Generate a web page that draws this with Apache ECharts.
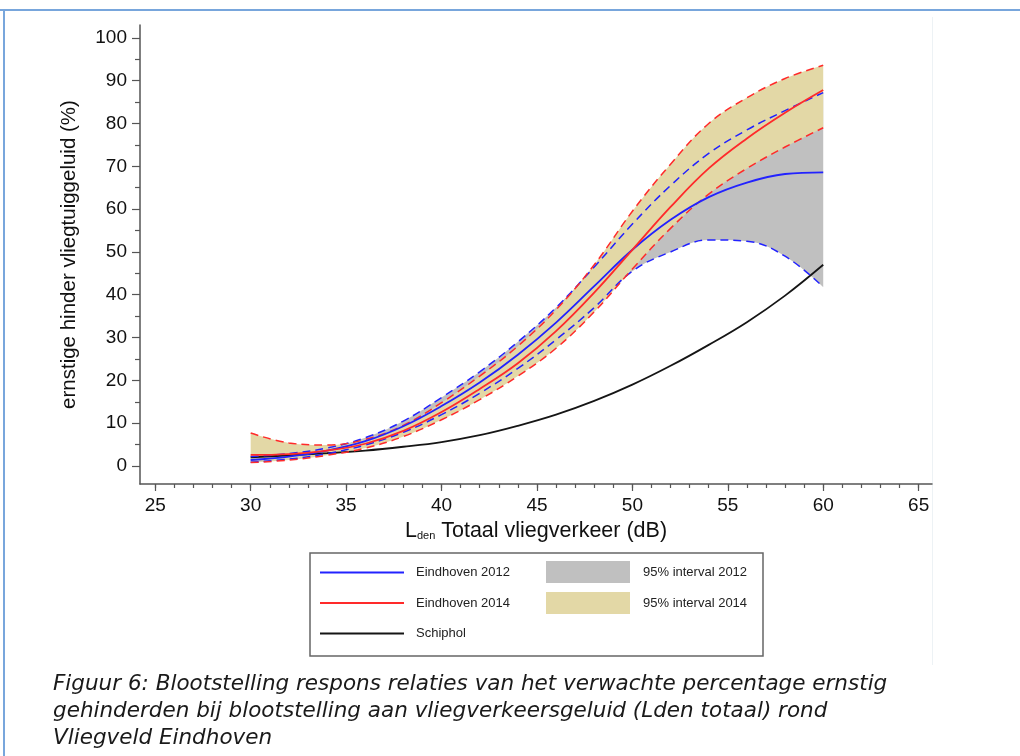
<!DOCTYPE html>
<html lang="nl">
<head>
    <meta charset="UTF-8"/>
    <title>Blootstelling respons relaties</title>
    <script src="https://cdn.jsdelivr.net/npm/echarts@6.0.0/dist/echarts.min.js"></script>
    <style>
        * {
            margin: 0;
            padding: 0;
        }

        html, body {
            background: #ffffff;
        }

        #chart {
            width: 1020px;
            height: 756px;
        }
    </style>
</head>
<body>
<div id="chart"></div>
<script>
    // L_den totaal (dB)
    const dB = [30, 32, 34, 36, 38, 40, 42, 44, 46, 48, 50, 52, 54, 56, 58, 60];

    // percentage ernstig gehinderden
    const eindhoven2012 = [1.4, 2.2, 3.6, 5.8, 9.3, 14.0, 19.5, 26.0, 33.5, 42.0, 50.5, 57.5, 62.8, 66.2, 68.2, 68.6];
    const upper2012 = [2.2, 2.9, 4.2, 6.6, 10.5, 16.0, 22.0, 29.0, 37.0, 46.5, 56.5, 65.5, 73.0, 78.5, 83.0, 87.2];
    const lower2012 = [0.9, 1.6, 2.9, 4.9, 7.9, 12.0, 17.0, 22.8, 29.5, 37.0, 45.5, 50.0, 52.8, 52.5, 49.0, 41.8];

    const eindhoven2014 = [2.6, 2.8, 3.6, 5.2, 8.2, 12.6, 18.0, 24.0, 31.5, 40.5, 50.5, 60.5, 69.5, 76.5, 82.5, 87.8];
    const upper2014 = [7.7, 5.4, 4.9, 6.2, 9.5, 14.8, 21.0, 28.0, 36.5, 47.0, 59.5, 70.5, 80.0, 86.0, 90.5, 93.6];
    const lower2014 = [0.8, 1.4, 2.5, 4.2, 6.9, 10.8, 15.5, 21.0, 27.5, 36.0, 46.0, 55.5, 63.5, 69.5, 74.5, 79.0];

    const schiphol = [2.0, 2.5, 3.0, 3.6, 4.5, 5.6, 7.2, 9.4, 12.0, 15.2, 19.0, 23.4, 28.3, 33.6, 39.8, 47.0];

    // as-labels en ticks
    const xMajor = [25, 30, 35, 40, 45, 50, 55, 60, 65];
    const xMinor = [25, 26, 27, 28, 29, 30, 31, 32, 33, 34, 35, 36, 37, 38, 39, 40, 41, 42, 43, 44, 45,
        46, 47, 48, 49, 50, 51, 52, 53, 54, 55, 56, 57, 58, 59, 60, 61, 62, 63, 64, 65];
    const yMajor = [0, 10, 20, 30, 40, 50, 60, 70, 80, 90, 100];
    const yMinor = [5, 15, 25, 35, 45, 55, 65, 75, 85, 95];

    const BLUE = '#2222ff';
    const RED = '#ff2a2a';
    const GREY = '#c0c0c0';
    const TAN = '#e3d8a6';
    const FONT = "'Liberation Sans', Arial, sans-serif";
    const SMOOTH = 0.4;

    function pairs(ys) {
        return dB.map((x, i) => [x, ys[i]]);
    }

    // banden: y staat vooraan zodat de stapeling op y gebeurt
    function yFirst(ys) {
        return dB.map((x, i) => [ys[i], x]);
    }

    function bandBase(name, stack, low) {
        return {
            name: name, type: 'line', stack: stack, data: yFirst(low), encode: {x: 1, y: 0},
            smooth: SMOOTH, symbol: 'none', lineStyle: {opacity: 0}, silent: true
        };
    }

    function band(name, stack, up, low, color) {
        const d = up.map((v, i) => v - low[i]);
        return {
            name: name, type: 'line', stack: stack, data: yFirst(d), encode: {x: 1, y: 0},
            smooth: SMOOTH, symbol: 'none', color: color,
            lineStyle: {opacity: 0}, areaStyle: {color: color, opacity: 1}, silent: true
        };
    }

    function curve(name, ys, color, dashed) {
        return {
            name: name, type: 'line', data: pairs(ys), smooth: SMOOTH,
            symbol: 'none', showSymbol: false, color: color,
            lineStyle: dashed ? {color: color, width: 1.5, type: [8, 5]} : {color: color, width: 1.8}
        };
    }

    const chart = echarts.init(document.getElementById('chart'));

    const option = {
        animation: false,
        backgroundColor: '#ffffff',
        textStyle: {fontFamily: FONT},
        title: {
            text: 'Figuur 6: Blootstelling respons relaties van het verwachte percentage ernstig\n' +
                'gehinderden bij blootstelling aan vliegverkeersgeluid (Lden totaal) rond\n' +
                'Vliegveld Eindhoven',
            left: 53,
            top: 671,
            padding: 0,
            textStyle: {
                fontFamily: "'DejaVu Sans', sans-serif",
                fontStyle: 'italic',
                fontWeight: 'normal',
                fontSize: 21.5,
                lineHeight: 27,
                color: '#1a1a1a'
            }
        },
        graphic: [
            {type: 'rect', shape: {x: 0, y: 9, width: 1020, height: 2}, style: {fill: '#78a6dc'}},
            {type: 'rect', shape: {x: 3, y: 9, width: 2, height: 747}, style: {fill: '#78a6dc'}},
            {type: 'rect', shape: {x: 932, y: 17, width: 1, height: 648}, style: {fill: '#edf2f5'}},
            {
                type: 'rect', shape: {x: 310, y: 553, width: 453, height: 103},
                style: {fill: 'none', stroke: '#666666', lineWidth: 1.5}
            }
        ],
        legend: [
            {
                data: [
                    {name: 'Eindhoven 2012', icon: 'rect', itemStyle: {color: BLUE}},
                    {name: 'Eindhoven 2014', icon: 'rect', itemStyle: {color: RED}},
                    {name: 'Schiphol', icon: 'rect', itemStyle: {color: '#151515'}}
                ],
                orient: 'vertical',
                left: 320,
                top: 566,
                padding: 0,
                itemWidth: 84,
                itemHeight: 2,
                itemGap: 17.5,
                selectedMode: false,
                textStyle: {fontSize: 13, color: '#222', fontFamily: FONT, padding: [0, 0, 0, 7]}
            },
            {
                data: [
                    {name: '95% interval 2012', icon: 'rect', itemStyle: {color: GREY}},
                    {name: '95% interval 2014', icon: 'rect', itemStyle: {color: TAN}}
                ],
                orient: 'vertical',
                left: 546,
                top: 561,
                padding: 0,
                itemWidth: 84,
                itemHeight: 22,
                itemGap: 9,
                selectedMode: false,
                textStyle: {fontSize: 13, color: '#222', fontFamily: FONT, padding: [0, 0, 0, 8]}
            }
        ],
        grid: {left: 140, right: 88, top: 25, bottom: 272},
        xAxis: [
            {
                type: 'value', min: 24.2, max: 65.7,
                name: '{l|L}{s|den}{l| Totaal vliegverkeer (dB)}',
                nameLocation: 'middle',
                nameGap: 32,
                nameTextStyle: {
                    rich: {
                        l: {fontSize: 21.5, color: '#111', fontFamily: FONT},
                        s: {fontSize: 11, color: '#111', fontFamily: FONT, padding: [10, 0, 0, 0]}
                    }
                },
                axisLine: {onZero: false, lineStyle: {color: '#555', width: 1.5}},
                axisTick: {show: true, customValues: xMajor, length: 7, lineStyle: {color: '#555', width: 1.2}},
                axisLabel: {customValues: xMajor, margin: 12, fontSize: 19, color: '#111', fontFamily: FONT},
                splitLine: {show: false}
            },
            {
                type: 'value', min: 24.2, max: 65.7, position: 'bottom',
                axisLine: {show: false, onZero: false},
                axisTick: {show: true, customValues: xMinor, length: 4, lineStyle: {color: '#555', width: 1.2}},
                axisLabel: {show: false},
                splitLine: {show: false}
            }
        ],
        yAxis: [
            {
                type: 'value', min: -4.2, max: 103,
                name: 'ernstige hinder vliegtuiggeluid (%)',
                nameLocation: 'middle',
                nameGap: 60,
                nameTextStyle: {fontSize: 20.5, color: '#111', fontFamily: FONT},
                axisLine: {show: true, onZero: false, lineStyle: {color: '#555', width: 1.5}},
                axisTick: {show: true, customValues: yMajor, length: 8, lineStyle: {color: '#555', width: 1.2}},
                axisLabel: {customValues: yMajor, margin: 13, fontSize: 19, color: '#111', fontFamily: FONT},
                splitLine: {show: false}
            },
            {
                type: 'value', min: -4.2, max: 103, position: 'left',
                axisLine: {show: false, onZero: false},
                axisTick: {show: true, customValues: yMinor, length: 5, lineStyle: {color: '#555', width: 1.2}},
                axisLabel: {show: false},
                splitLine: {show: false}
            }
        ],
        series: [
            bandBase('lower 2012', 'b12', lower2012),
            band('95% interval 2012', 'b12', upper2012, lower2012, GREY),
            bandBase('lower 2014', 'b14', lower2014),
            band('95% interval 2014', 'b14', upper2014, lower2014, TAN),
            curve('Schiphol', schiphol, '#151515', false),
            curve('upper 2012', upper2012, BLUE, true),
            curve('lower 2012 line', lower2012, BLUE, true),
            curve('upper 2014', upper2014, RED, true),
            curve('lower 2014 line', lower2014, RED, true),
            curve('Eindhoven 2012', eindhoven2012, BLUE, false),
            curve('Eindhoven 2014', eindhoven2014, RED, false)
        ]
    };

    chart.setOption(option);
</script>
</body>
</html>
